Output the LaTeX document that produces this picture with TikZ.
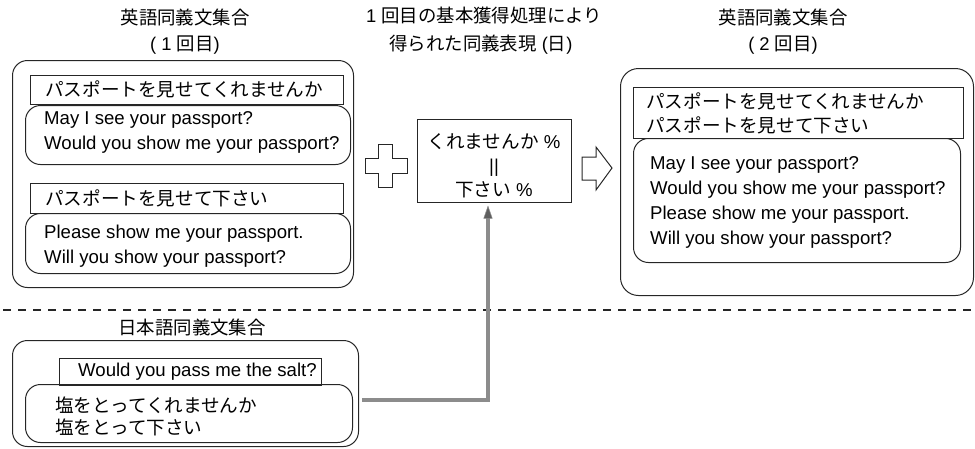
\documentclass[tikz,border=0pt]{standalone}
\usepackage{fontspec}
\setmainfont{Liberation Sans}
\newfontfamily\jpf{Noto Sans CJK JP}
\usetikzlibrary{arrows.meta}
\definecolor{conn}{RGB}{140,140,140}
\definecolor{conntip}{RGB}{95,95,95}
\begin{document}
\begin{tikzpicture}[x=1pt,y=-1pt,
  box/.style={draw=black!85, line width=1pt, inner sep=0pt, anchor=north west},
  rbox/.style={box, rounded corners=15pt},
  lat/.style={font=\fontsize{18.6}{25}\selectfont, inner sep=0pt, align=left, anchor=west},
  jp/.style={font=\fontsize{18.6}{23.5}\selectfont\jpf, inner sep=0pt, align=left, anchor=west},
  ttl/.style={font=\fontsize{18.4}{22}\selectfont, inner sep=0pt},
  shape line/.style={draw=black!85, line width=1pt, line join=miter}]
\useasboundingbox (0,0) rectangle (975,448);

% titles
\node[ttl] (t1a) at (185,18) {\jpf 英語同義文集合};
\node[ttl] (t1b) at (185,45) {( 1 {\jpf 回目})};
\node[ttl] (t2a) at (484,16) {1 {\jpf 回目の基本獲得処理により}};
\node[ttl] (t2b) at (481,45) {{\jpf 得られた同義表現} ({\jpf 日})};
\node[ttl] (t3a) at (783,18) {\jpf 英語同義文集合};
\node[ttl] (t3b) at (783,45) {( 2 {\jpf 回目})};

% left set (1st round)
\node[rbox, minimum width=341pt, minimum height=227pt] (Louter) at (12,60) {};
\node[box, minimum width=313pt, minimum height=29pt] (Lr1) at (30,75) {};
\node[jp] (Lj1) at (45,89.5) {パスポートを見せてくれませんか};
\node[rbox, minimum width=325pt, minimum height=59pt] (Le1) at (25,105) {};
\node[lat] (Lt1) at (44,132.5) {May I see your passport?\\Would you show me your passport?};
\node[box, minimum width=313pt, minimum height=30pt] (Lr2) at (30,183) {};
\node[jp] (Lj2) at (45,198.5) {パスポートを見せて下さい};
\node[rbox, minimum width=325pt, minimum height=60pt] (Le2) at (25,213) {};
\node[lat] (Lt2) at (44,246) {Please show me your passport.\\Will you show your passport?};

% plus sign
\draw[shape line] (378,144) -- (392,144) -- (392,158) -- (407,158) -- (407,173) -- (392,173)
  -- (392,187) -- (378,187) -- (378,173) -- (365,173) -- (365,158) -- (378,158) -- cycle;

% centre box
\node[box, anchor=center, minimum width=154pt, minimum height=83pt] (cbox) at (494,160.5) {};
\node[align=center, inner sep=0pt, font=\fontsize{18.6}{24}\selectfont] (ctext) at (494,166)
  {{\jpf くれませんか} \%\\||\\{\jpf 下さい} \%};

% block arrow
\draw[shape line] (582,157) -- (596,157) -- (596,147) -- (612,168) -- (596,190) -- (596,180)
  -- (582,180) -- cycle;

% right set (2nd round)
\node[rbox, rounded corners=18pt, minimum width=353pt, minimum height=227pt] (Router) at (620,68) {};
\node[box, minimum width=330pt, minimum height=51pt] (Rr) at (633,87) {};
\node[jp] (Rj) at (646,113.5) {パスポートを見せてくれませんか\\パスポートを見せて下さい};
\node[rbox, minimum width=327pt, minimum height=124pt] (Re) at (633,138) {};
\node[lat] (Rt) at (650,202) {May I see your passport?\\Would you show me your passport?\\Please show me your passport.\\Will you show your passport?};

% dashed separator
\coordinate (dl) at (0,310);
\coordinate (dr) at (975,310);
\draw[line width=2pt, black!85, dash pattern=on 8pt off 7pt, dash phase=-3pt] (dl) -- (dr);

% Japanese set
\node[ttl] (t4) at (192,328) {\jpf 日本語同義文集合};
\node[rbox, minimum width=346pt, minimum height=106pt] (Bouter) at (12,340) {};
\node[box, minimum width=262pt, minimum height=27pt] (Br) at (59,358) {};
\node[lat] (Bt) at (78,371.5) {Would you pass me the salt?};
\node[rbox, minimum width=327pt, minimum height=58pt] (Be) at (25,384) {};
\node[jp, font=\fontsize{18.6}{22}\selectfont\jpf] (Bj) at (55,416.5) {塩をとってくれませんか\\塩をとって下さい};

% grey connector
\coordinate (gstart) at (362,400);
\draw[line width=4pt, draw=conn, shorten >=3pt,
  -{Triangle[length=13pt,width=9pt,line width=0.5pt,fill=conntip]}]
  (gstart) -| ([xshift=-6pt]cbox.south);
\end{tikzpicture}
\end{document}
